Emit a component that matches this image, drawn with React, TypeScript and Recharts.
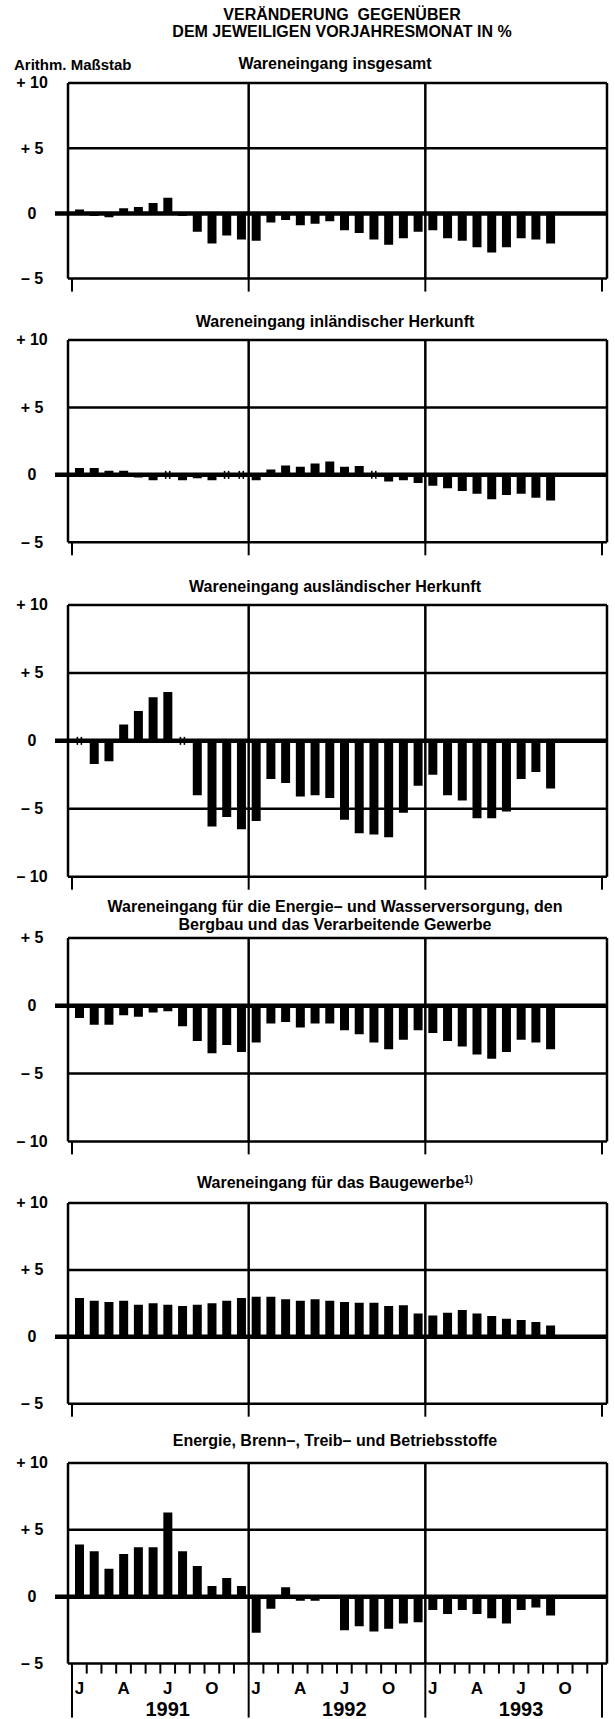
import React from 'react';
import {
  ComposedChart,
  Bar,
  XAxis,
  YAxis,
  CartesianGrid,
  ReferenceLine,
  ReferenceDot,
} from 'recharts';

// ---------- data ----------
const years = ['1991', '1992', '1993'];
const monthLetters = ['J', 'F', 'M', 'A', 'M', 'J', 'J', 'A', 'S', 'O', 'N', 'D'];
const labelledMonths = [0, 3, 6, 9]; // J, A, J, O

// Veränderung gegenüber Vorjahresmonat in %, Jan 1991 .. Sep 1993
const insgesamt = [
  0.3, -0.2, -0.3, 0.4, 0.5, 0.8, 1.2, -0.2, -1.4, -2.3, -1.7, -2.0,
  -2.1, -0.7, -0.5, -0.9, -0.8, -0.6, -1.3, -1.5, -2.0, -2.4, -1.9, -1.4,
  -1.3, -1.9, -2.1, -2.6, -3.0, -2.6, -1.9, -2.0, -2.3,
];
const inlaendisch = [
  0.5, 0.5, 0.3, 0.3, -0.2, -0.4, 0, -0.4, -0.25, -0.4, 0, 0,
  -0.4, 0.4, 0.7, 0.6, 0.85, 1.0, 0.6, 0.65, 0, -0.5, -0.4, -0.6,
  -0.8, -1.0, -1.2, -1.4, -1.8, -1.5, -1.4, -1.7, -1.9,
];
const auslaendisch = [
  0, -1.7, -1.5, 1.2, 2.2, 3.2, 3.6, 0, -4.0, -6.3, -5.6, -6.5,
  -5.9, -2.8, -3.1, -4.1, -4.0, -4.2, -5.8, -6.8, -6.9, -7.1, -5.3, -3.3,
  -2.5, -4.0, -4.4, -5.7, -5.7, -5.2, -2.8, -2.3, -3.5,
];
const energieWasser = [
  -0.9, -1.4, -1.4, -0.7, -0.8, -0.5, -0.4, -1.5, -2.6, -3.5, -2.9, -3.4,
  -2.7, -1.3, -1.2, -1.6, -1.3, -1.3, -1.8, -2.1, -2.7, -3.2, -2.5, -1.8,
  -2.0, -2.6, -3.0, -3.6, -3.9, -3.4, -2.5, -2.7, -3.2,
];
const baugewerbe = [
  2.9, 2.7, 2.6, 2.7, 2.4, 2.5, 2.4, 2.3, 2.4, 2.5, 2.7, 2.9,
  3.0, 3.0, 2.8, 2.7, 2.8, 2.7, 2.6, 2.55, 2.55, 2.3, 2.35, 1.75,
  1.6, 1.8, 2.0, 1.75, 1.55, 1.35, 1.25, 1.1, 0.85,
];
const brennstoffe = [
  3.9, 3.4, 2.1, 3.2, 3.7, 3.7, 6.3, 3.4, 2.3, 0.8, 1.4, 0.8,
  -2.7, -0.9, 0.7, -0.3, -0.3, -0.1, -2.5, -2.2, -2.6, -2.4, -2.0, -1.9,
  -1.0, -1.3, -1.0, -1.3, -1.6, -2.0, -1.0, -0.8, -1.4,
];

const ticksA = [-5, 0, 5, 10];
const ticksB = [-10, -5, 0, 5, 10];
const ticksC = [-10, -5, 0, 5];

// ---------- styling ----------
const FONT = '"Liberation Sans", Arial, Helvetica, sans-serif';
const INK = '#000';

const categories: string[] = [];
years.forEach((y) => monthLetters.forEach((_, i) => categories.push(`${y}-${i + 1}`)));

const yearTicks = [0, 12, 24, 36];
const allMonthTicks = categories.map((_, i) => i).concat([36]);
const monthLabelTicks: number[] = [];
years.forEach((_, yi) => labelledMonths.forEach((m) => monthLabelTicks.push(yi * 12 + m + 0.5)));

const fmtY = (v: number) => (v > 0 ? `+ ${v}` : v < 0 ? `– ${-v}` : '0');

const ZeroLine = (p: any) => (
  <line
    x1={Math.min(p.x1, p.x2) - 13}
    x2={Math.max(p.x1, p.x2)}
    y1={p.y1}
    y2={p.y2}
    stroke={INK}
    strokeWidth={4.5}
  />
);

const ZeroMark = (p: any) => (
  <g>
    <line x1={p.cx - 2} x2={p.cx - 2} y1={p.cy - 4} y2={p.cy + 4} stroke={INK} strokeWidth={1.6} />
    <line x1={p.cx + 2} x2={p.cx + 2} y1={p.cy - 4} y2={p.cy + 4} stroke={INK} strokeWidth={1.6} />
  </g>
);

const YTick = (p: any) => (
  <text
    x={p.x - 36}
    y={p.y}
    textAnchor="middle"
    dominantBaseline="central"
    fontFamily={FONT}
    fontWeight="bold"
    fontSize={16}
    fill={INK}
  >
    {fmtY(p.payload.value)}
  </text>
);

const makeXTick = (last: boolean) => (p: any) => {
  const v: number = p.payload.value;
  const { x, y } = p;
  if (Number.isInteger(v)) {
    const yearLine = v % 12 === 0;
    const len = last ? (yearLine ? 54 : 10) : 13;
    return <line x1={x} x2={x} y1={y} y2={y + len} stroke={INK} strokeWidth={2} />;
  }
  const k = Math.floor(v);
  const mi = k % 12;
  return (
    <g>
      <text
        x={x}
        y={y + 25}
        textAnchor="middle"
        dominantBaseline="central"
        fontFamily={FONT}
        fontWeight="bold"
        fontSize={17}
        fill={INK}
      >
        {monthLetters[mi]}
      </text>
      {mi === 6 && (
        <text
          x={x}
          y={y + 45}
          textAnchor="middle"
          dominantBaseline="central"
          fontFamily={FONT}
          fontWeight="bold"
          fontSize={20}
          fill={INK}
        >
          {years[Math.floor(k / 12)]}
        </text>
      )}
    </g>
  );
};

type PanelProps = {
  values: number[];
  domain: [number, number];
  ticks: number[];
  top: number;
  bottom: number;
  last?: boolean;
};

function Panel({ values, domain, ticks, top, bottom, last = false }: PanelProps) {
  const mt = 14;
  const xh = last ? 55 : 16;
  const h = bottom - top + mt + xh;
  const data = categories.map((m, i) => ({
    m,
    x: i + 0.5,
    v: i < values.length ? values[i] : null,
  }));
  const zeros = data.filter((d) => d.v === 0);
  const xTicks = last ? [...allMonthTicks, ...monthLabelTicks] : yearTicks;
  const pad = { left: 4, right: 5 };
  return (
    <div style={{ position: 'absolute', left: 0, top: top - mt }}>
      <ComposedChart
        width={615}
        height={h}
        data={data}
        margin={{ top: mt, right: 7, bottom: 0, left: 0 }}
      >
        <CartesianGrid vertical={false} stroke={INK} strokeWidth={2.5} />
        <XAxis
          type="number"
          dataKey="x"
          domain={[0, 36]}
          ticks={xTicks}
          interval={0}
          padding={pad}
          height={xh}
          axisLine={false}
          tickLine={false}
          tickSize={0}
          tickMargin={0}
          tick={makeXTick(last)}
          allowDataOverflow
        />
        <XAxis xAxisId="b" type="category" dataKey="m" hide padding={pad} />
        <YAxis
          type="number"
          domain={domain}
          ticks={ticks}
          interval={0}
          width={68}
          axisLine={{ stroke: INK, strokeWidth: 2.5 }}
          tickLine={false}
          tickSize={0}
          tickMargin={0}
          tick={YTick}
          allowDataOverflow
        />
        <YAxis
          yAxisId="r"
          orientation="right"
          type="number"
          domain={domain}
          width={1}
          axisLine={{ stroke: INK, strokeWidth: 2.5 }}
          tick={false}
          tickLine={false}
          allowDataOverflow
        />
        <ReferenceLine x={12} stroke={INK} strokeWidth={2.5} />
        <ReferenceLine x={24} stroke={INK} strokeWidth={2.5} />
        <ReferenceLine y={0} shape={ZeroLine} />
        <Bar xAxisId="b" dataKey="v" fill={INK} barSize={9} isAnimationActive={false} />
        {zeros.map((d) => (
          <ReferenceDot key={d.m} x={d.x} y={0} r={3} shape={ZeroMark} />
        ))}
      </ComposedChart>
    </div>
  );
}

const textStyle: React.CSSProperties = {
  position: 'absolute',
  fontFamily: FONT,
  fontWeight: 'bold',
  fontSize: 16,
  lineHeight: '18px',
  whiteSpace: 'nowrap',
  color: INK,
};

function Title({ cy, cx = 335, children }: { cy: number; cx?: number; children: React.ReactNode }) {
  return (
    <div style={{ ...textStyle, left: cx, top: cy - 9, transform: 'translateX(-50%)', textAlign: 'center' }}>
      {children}
    </div>
  );
}

export default function App() {
  return (
    <div
      style={{
        position: 'absolute',
        left: 0,
        top: 0,
        width: 615,
        height: 1719,
        overflow: 'hidden',
        background: '#fff',
      }}
    >
      <Title cy={15} cx={342}>VERÄNDERUNG&nbsp; GEGENÜBER</Title>
      <Title cy={32} cx={342}>DEM JEWEILIGEN VORJAHRESMONAT IN %</Title>
      <div style={{ ...textStyle, left: 14, top: 56, fontSize: 15 }}>Arithm. Maßstab</div>

      <Title cy={64}>Wareneingang insgesamt</Title>
      <Panel values={insgesamt} domain={[-5, 10]} ticks={ticksA} top={82.7} bottom={278.3} />

      <Title cy={322}>Wareneingang inländischer Herkunft</Title>
      <Panel values={inlaendisch} domain={[-5, 10]} ticks={ticksA} top={340} bottom={542.3} />

      <Title cy={587}>Wareneingang ausländischer Herkunft</Title>
      <Panel values={auslaendisch} domain={[-10, 10]} ticks={ticksB} top={605} bottom={876.7} />

      <Title cy={907}>Wareneingang für die Energie– und Wasserversorgung, den</Title>
      <Title cy={925}>Bergbau und das Verarbeitende Gewerbe</Title>
      <Panel values={energieWasser} domain={[-10, 5]} ticks={ticksC} top={938.3} bottom={1141.7} />

      <Title cy={1183}>
        Wareneingang für das Baugewerbe
        <sup style={{ fontSize: 10, verticalAlign: 'top', position: 'relative', top: -3 }}>1)</sup>
      </Title>
      <Panel values={baugewerbe} domain={[-5, 10]} ticks={ticksA} top={1203.3} bottom={1404} />

      <Title cy={1441}>Energie, Brenn–, Treib– und Betriebsstoffe</Title>
      <Panel values={brennstoffe} domain={[-5, 10]} ticks={ticksA} top={1462.7} bottom={1663.3} last />
    </div>
  );
}
